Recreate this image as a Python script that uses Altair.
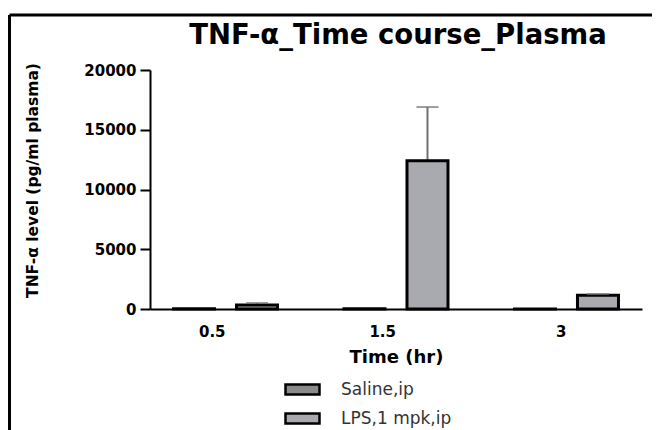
import altair as alt
import pandas as pd

# ---- data ----
times = ["0.5", "1.5", "3"]
groups = ["Saline,ip", "LPS,1 mpk,ip"]
saline_mean = [12, 15, 10]
lps_mean = [330, 12400, 1150]
lps_sem = [170, 4500, 100]
y_ticks = [0, 5000, 10000, 15000, 20000]
group_colors = ["#8a8a8a", "#a9a9b0"]
chart_title = "TNF-α_Time course_Plasma"
y_title = "TNF-α level (pg/ml plasma)"
x_title = "Time (hr)"

rows = []
for i, t in enumerate(times):
    rows.append({"time": t, "group": groups[0], "mean": saline_mean[i], "top": saline_mean[i]})
    rows.append({"time": t, "group": groups[1], "mean": lps_mean[i], "top": lps_mean[i] + lps_sem[i]})
df = pd.DataFrame(rows)

FONT = "DejaVu Sans"

x_scale = alt.Scale(paddingInner=0.39, paddingOuter=0.138)
y_scale = alt.Scale(domain=[0, 20000], nice=False)
xoff = alt.XOffset("group:N", sort=groups, scale=alt.Scale(paddingInner=0.349, paddingOuter=0))

x_enc = alt.X(
    "time:N", sort=times, scale=x_scale, title=x_title,
    axis=alt.Axis(labelAngle=0, ticks=False, domainColor="black",
                  domainWidth=2, labelFont=FONT, labelFontWeight="bold", labelFontSize=15,
                  labelColor="black", labelPadding=22, titleFont=FONT, titleFontWeight="bold",
                  titleFontSize=18, titleColor="black", titlePadding=9),
)
y_enc = alt.Y("mean:Q", scale=y_scale, title=y_title,
              axis=alt.Axis(values=y_ticks, format="d",
                            grid=False, domainColor="black", domainWidth=2, tickColor="black",
                            tickWidth=2, tickSize=10, labelPadding=4, labelFont=FONT,
                            labelFontWeight="bold", labelFontSize=15, labelColor="black",
                            titleFont=FONT, titleFontWeight="bold", titleFontSize=15.5,
                            titleColor="black", titleX=-118, titleY=110, titleAngle=270,
                            titleAlign="center", titleBaseline="middle"))

bars = alt.Chart(df).mark_bar(stroke="black", strokeWidth=3).encode(
    x=x_enc,
    xOffset=xoff,
    y=y_enc,
    color=alt.Color("group:N", sort=groups,
                    scale=alt.Scale(domain=groups, range=group_colors),
                    legend=alt.Legend(orient="none", legendX=134, legendY=301, title=None,
                                      direction="vertical",
                                      symbolType="M-1,-0.3L1,-0.3L1,0.3L-1,0.3Z",
                                      symbolSize=1156, symbolStrokeColor="black",
                                      symbolStrokeWidth=2.5, symbolOpacity=1,
                                      labelFont=FONT, labelFontSize=17,
                                      labelColor="#333333", labelOffset=20, rowPadding=-3)),
)

lps_only = alt.datum.group == groups[1]

err_rule = alt.Chart(df).transform_filter(lps_only).mark_rule(color="#707070", strokeWidth=2).encode(
    x=alt.X("time:N", sort=times, title=x_title),
    xOffset=xoff,
    y=alt.Y("mean:Q", title=y_title),
    y2="top:Q",
)
err_cap = alt.Chart(df).transform_filter(lps_only).mark_tick(color="#707070", thickness=2, size=22).encode(
    x=alt.X("time:N", sort=times, title=x_title),
    xOffset=xoff,
    y=alt.Y("top:Q", title=y_title),
)

one = pd.DataFrame({"k": [0]})
frame_left = alt.Chart(one).mark_rule(color="black", strokeWidth=3).encode(
    x=alt.value(-140.5), y=alt.value(-55), y2=alt.value(362))
frame_top = alt.Chart(one).mark_rule(color="black", strokeWidth=3).encode(
    x=alt.value(-140.5), x2=alt.value(510), y=alt.value(-55))
title_text = alt.Chart(one).mark_text(font=FONT, fontWeight="bold", fontSize=27.5,
                                      color="black", align="center", baseline="middle").encode(
    x=alt.value(248), y=alt.value(-34), text=alt.value(chart_title))

chart = alt.layer(err_rule, bars, err_cap, frame_left, frame_top, title_text).properties(
    width=492, height=239,
    padding={"left": 142, "top": 62, "right": 10, "bottom": 123},
    autosize=alt.AutoSizeParams(type="none"),
).configure_view(stroke=None)

chart.save("out.html", embed_options={"renderer": "svg", "actions": False})
